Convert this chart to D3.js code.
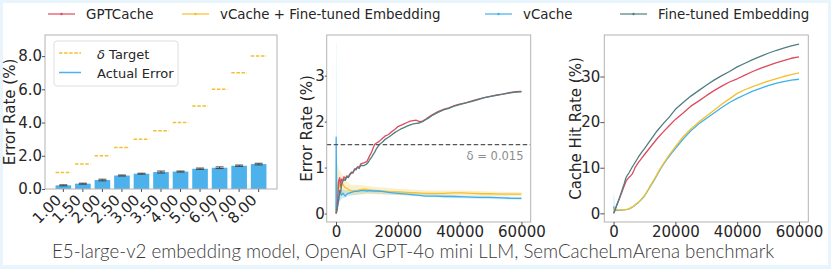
<!DOCTYPE html>
<html><head><meta charset="utf-8">
<script src="https://cdn.jsdelivr.net/npm/d3@7"></script>
<style>
body{margin:0;background:#fff}
svg text{font-family:"DejaVu Sans",sans-serif;fill:#262626}
</style>
</head><body>
<svg id="c" width="831" height="269"></svg>
<script>
// ---------------- DATA ----------------
const seriesNames = ["GPTCache", "vCache + Fine-tuned Embedding", "vCache", "Fine-tuned Embedding"];
const deltaCategories = ["1.00","1.50","2.00","2.50","3.00","3.50","4.00","5.00","6.00","7.00","8.00"];
const deltaTargets = [1.0,1.5,2.0,2.5,3.0,3.5,4.0,5.0,6.0,7.0,8.0];
const actualError = [0.22,0.32,0.54,0.81,0.92,1.02,1.05,1.22,1.28,1.40,1.50];
const actualErrorStd = [0.03,0.03,0.05,0.03,0.03,0.06,0.03,0.04,0.05,0.04,0.05];
const barLegend = ["δ Target", "Actual Error"];

const err_gptcache = [[0,0],[300,0.1],[600,0.35],[900,0.72],[1200,0.78],[1500,0.6],[1800,0.75],[2200,0.72],[2600,0.8],[3000,0.76],[3500,0.82],[4000,0.8],[4500,0.86],[5000,0.9],[5500,0.88],[6000,0.97],[6500,0.95],[7000,1.02],[7500,1.0],[8000,1.08],[9000,1.1],[10000,1.13],[10500,1.2],[11000,1.27],[11500,1.33],[12000,1.42],[12500,1.5],[13000,1.53],[14000,1.57],[15000,1.63],[16000,1.69],[17000,1.72],[18000,1.78],[19000,1.83],[20000,1.89],[21000,1.92],[22000,1.95],[23000,1.98],[24000,2.01],[25000,2.02],[26000,2.03],[27000,2.0],[28000,2.01],[29000,2.05],[30000,2.1],[31000,2.14],[33000,2.22],[35000,2.27],[36500,2.3],[38000,2.34],[40000,2.38],[42000,2.41],[44000,2.45],[46000,2.49],[48000,2.52],[50000,2.55],[52000,2.58],[54000,2.6],[56000,2.63],[58000,2.65],[60000,2.66]];
const err_ft = [[0,0],[300,0.05],[600,0.2],[900,0.3],[1200,0.5],[1500,0.45],[1800,0.62],[2200,0.7],[2600,0.74],[3000,0.72],[3500,0.8],[4000,0.78],[4500,0.84],[5000,0.88],[5500,0.9],[6000,0.95],[6500,0.98],[7000,1.0],[7500,0.98],[8000,1.05],[9000,1.04],[10000,1.08],[10500,1.12],[11000,1.18],[11500,1.22],[12000,1.28],[12500,1.33],[13000,1.4],[14000,1.5],[15000,1.55],[16000,1.62],[17000,1.66],[18000,1.71],[19000,1.76],[20000,1.8],[21000,1.84],[22000,1.87],[23000,1.9],[24000,1.93],[25000,1.95],[26000,1.96],[27000,1.97],[28000,2.0],[29000,2.04],[30000,2.08],[31000,2.13],[33000,2.2],[35000,2.26],[36500,2.29],[38000,2.33],[40000,2.37],[42000,2.41],[44000,2.44],[46000,2.48],[48000,2.52],[50000,2.55],[52000,2.57],[54000,2.6],[56000,2.62],[58000,2.64],[60000,2.65]];
const err_vcache = [[0,0.05],[60,1.66],[200,0.6],[350,0.1],[600,0.2],[900,0.35],[1300,0.45],[1800,0.4],[2300,0.44],[3000,0.38],[3500,0.42],[4000,0.44],[5000,0.46],[6000,0.48],[7000,0.48],[8000,0.5],[9000,0.5],[10000,0.49],[11000,0.5],[12000,0.49],[13000,0.49],[15000,0.48],[17000,0.46],[20000,0.44],[23000,0.42],[26000,0.4],[29000,0.38],[32000,0.38],[35000,0.37],[38000,0.37],[42000,0.36],[46000,0.35],[50000,0.35],[54000,0.34],[57000,0.33],[60000,0.33]];
const err_vcacheft = [[0,0],[200,0.3],[500,0.62],[800,0.7],[1100,0.6],[1500,0.55],[2000,0.66],[2500,0.6],[3000,0.56],[3500,0.55],[4000,0.52],[5000,0.5],[6000,0.49],[7000,0.5],[8000,0.52],[9000,0.53],[10000,0.52],[11000,0.51],[12000,0.5],[14000,0.49],[16000,0.48],[18000,0.47],[20000,0.47],[23000,0.46],[26000,0.45],[29000,0.44],[32000,0.44],[35000,0.44],[38000,0.45],[41000,0.45],[44000,0.44],[47000,0.43],[50000,0.43],[53000,0.42],[56000,0.42],[60000,0.42]];
const errBand_vcacheft = [[0,0,1.2],[500,0.2,1.1],[1000,0.3,0.95],[2000,0.4,0.85],[3000,0.42,0.72],[5000,0.4,0.62],[8000,0.42,0.62],[12000,0.42,0.58],[20000,0.4,0.54],[30000,0.38,0.5],[40000,0.39,0.5],[50000,0.38,0.48],[60000,0.38,0.46]];
const errBand_vcache = [[0,0,3.73],[100,0,3.7],[250,0,1.2],[500,0.05,0.7],[1000,0.25,0.62],[2000,0.32,0.52],[4000,0.38,0.5],[10000,0.44,0.54],[20000,0.4,0.48],[40000,0.33,0.39],[60000,0.3,0.36]];
const deltaLine = 1.5;
const deltaLabel = "δ = 0.015";

const hit_ft = [[0,0],[500,0.8],[1000,1.8],[1500,2.6],[2000,3.6],[2500,4.6],[3000,5.6],[3500,6.6],[4000,7.8],[4500,8.4],[5000,8.9],[6000,10.1],[7000,11.2],[8000,12.3],[9000,13.3],[10000,14.2],[12000,16.1],[14000,18.0],[16000,19.6],[18000,21.1],[20000,22.8],[22500,24.3],[25000,25.7],[27500,26.9],[30000,28.1],[32500,29.2],[35000,30.2],[37500,31.1],[40000,32.1],[42500,32.9],[45000,33.7],[47500,34.4],[50000,35.1],[52500,35.7],[55000,36.2],[57500,36.7],[60000,37.1]];
const hit_gptcache = [[0,0],[500,0.8],[1000,1.7],[1500,2.6],[2000,3.4],[2500,4.3],[3000,5.2],[3500,6.1],[4000,7.0],[4500,7.5],[5000,7.9],[5500,8.2],[6000,8.6],[6500,9.3],[7000,10.1],[8000,11.1],[9000,12.0],[10000,12.9],[12000,14.6],[14000,16.3],[16000,17.8],[18000,19.2],[20000,20.6],[22500,22.0],[25000,23.5],[27500,24.6],[30000,25.8],[32500,26.9],[35000,27.9],[37500,28.8],[40000,29.5],[42500,30.3],[45000,31.1],[47500,31.8],[50000,32.4],[52500,33.0],[55000,33.5],[57500,34.0],[60000,34.3]];
const hit_vcacheft = [[0,1.0],[300,0.6],[700,0.8],[1500,0.7],[2500,0.75],[3500,0.8],[4500,0.9],[5000,1.0],[5500,1.2],[6000,1.4],[6500,1.6],[7000,1.9],[8000,2.4],[9000,3.1],[10000,3.9],[11000,5.0],[12000,6.2],[13000,7.3],[14000,8.5],[15000,9.7],[16000,10.8],[17000,11.8],[18000,12.8],[19000,13.7],[20000,14.6],[22500,16.8],[25000,18.5],[27500,20.0],[30000,21.3],[32500,22.6],[35000,23.9],[37500,25.1],[40000,26.3],[42500,27.1],[45000,27.8],[47500,28.4],[50000,29.0],[52500,29.5],[55000,30.0],[57500,30.4],[60000,30.8]];
const hit_vcache = [[0,1.5],[300,0.6],[700,0.7],[1500,0.65],[2500,0.7],[3500,0.75],[4500,0.85],[5000,0.95],[5500,1.15],[6000,1.35],[6500,1.55],[7000,1.85],[8000,2.35],[9000,3.0],[10000,3.8],[11000,4.9],[12000,6.0],[13000,7.1],[14000,8.3],[15000,9.5],[16000,10.6],[17000,11.6],[18000,12.5],[19000,13.4],[20000,14.2],[22500,16.3],[25000,18.1],[27500,19.6],[30000,20.8],[32500,22.0],[35000,23.2],[37500,24.3],[40000,25.2],[42500,26.0],[45000,26.8],[47500,27.4],[50000,28.0],[52500,28.5],[55000,28.9],[57500,29.2],[60000,29.4]];
const hitBand_vcache = [[0,0,4.4],[150,0,4.2],[400,0.3,1.4],[900,0.4,1.0],[2000,0.5,0.85]];

const xTicks = [0,20000,40000,60000];
const errTicks = [0,1,2,3];
const hitTicks = [0,10,20,30];
const barTicks = [0,2,4,6,8];
const caption = "E5-large-v2 embedding model, OpenAI GPT-4o mini LLM, SemCacheLmArena benchmark";

// ---------------- STYLE ----------------
const C = {red:"#dc4b5f", yellow:"#f3c02e", blue:"#3fb0ec", teal:"#4f7f80", bar:"#4db1ec"};
const seriesColors = [C.red, C.yellow, C.blue, C.teal];
const svg = d3.select("#c");
const W = 831, H = 269;

svg.append("rect").attr("width",W).attr("height",H).attr("fill","#e9f5fc");
svg.append("rect").attr("x",3).attr("y",3).attr("width",W-6).attr("height",H-7).attr("fill","#fff");

function frame(g, x0, y0, x1, y1){
  g.append("rect").attr("x",x0).attr("y",y0).attr("width",x1-x0).attr("height",y1-y0)
   .attr("fill","none").attr("stroke","#b3b3b3").attr("stroke-width",1);
}
function styleAxis(sel){
  sel.select(".domain").remove();
  sel.selectAll(".tick line").attr("stroke","#555");
  sel.selectAll(".tick text").style("font-size","15px").attr("fill","#262626").style("font-family","DejaVu Sans");
}
function ylabel(text, x, y){
  svg.append("text").attr("transform",`translate(${x},${y}) rotate(-90)`)
    .attr("text-anchor","middle").attr("dominant-baseline","central")
    .style("font-size","15px").text(text);
}

// ---------------- PANEL 1 ----------------
{
  const L=45, R=277, T=35, B=189;
  const x = d3.scaleLinear().domain([-0.94, deltaCategories.length-1+0.94]).range([L,R]);
  const y = d3.scaleLinear().domain([0, 9.27]).range([B,T]);
  const g = svg.append("g");
  const bw = x(0.8)-x(0);
  g.selectAll("rect.bar").data(actualError).join("rect").attr("class","bar")
    .attr("x",(d,i)=>x(i)-bw/2).attr("width",bw)
    .attr("y",d=>y(d)).attr("height",d=>B-y(d)).attr("fill",C.bar);
  const eb = g.selectAll("g.eb").data(actualError).join("g");
  eb.append("line").attr("x1",(d,i)=>x(i)).attr("x2",(d,i)=>x(i))
    .attr("y1",(d,i)=>y(d-actualErrorStd[i])).attr("y2",(d,i)=>y(d+actualErrorStd[i])).attr("stroke","#444");
  [-1,1].forEach(s=>{
    eb.append("line").attr("x1",(d,i)=>x(i)-4).attr("x2",(d,i)=>x(i)+4)
      .attr("y1",(d,i)=>y(d+s*actualErrorStd[i])).attr("y2",(d,i)=>y(d+s*actualErrorStd[i]))
      .attr("stroke","#444");
  });
  g.selectAll("line.tg").data(deltaTargets).join("line").attr("class","tg")
    .attr("x1",(d,i)=>x(i)-bw/2).attr("x2",(d,i)=>x(i)+bw/2)
    .attr("y1",d=>y(d)).attr("y2",d=>y(d))
    .attr("stroke",C.yellow).attr("stroke-width",1.5).attr("stroke-dasharray","3.5,1.6");
  frame(g,L,T,R,B);
  const ya = g.append("g").attr("transform",`translate(${L},0)`)
    .call(d3.axisLeft(y).tickValues(barTicks).tickFormat(d3.format(".1f")).tickSize(3).tickPadding(0));
  styleAxis(ya);
  const xa = g.append("g");
  xa.selectAll("line").data(deltaCategories).join("line")
    .attr("x1",(d,i)=>x(i)).attr("x2",(d,i)=>x(i)).attr("y1",B).attr("y2",B+3).attr("stroke","#555");
  xa.selectAll("text").data(deltaCategories).join("text")
    .attr("transform",(d,i)=>`translate(${x(i)-1},${B+12}) rotate(-45)`)
    .attr("text-anchor","end").style("font-size","15px").text(d=>d);
  ylabel("Error Rate (%)", 10, (T+B)/2);
  const lg = g.append("g");
  lg.append("rect").attr("x",54).attr("y",41).attr("width",124).attr("height",45).attr("rx",3)
    .attr("fill","#fff").attr("fill-opacity",0.85).attr("stroke","#dedede");
  lg.append("line").attr("x1",59).attr("x2",81).attr("y1",53).attr("y2",53)
    .attr("stroke",C.yellow).attr("stroke-width",1.5).attr("stroke-dasharray","3.5,1.6");
  lg.append("line").attr("x1",59).attr("x2",81).attr("y1",72.5).attr("y2",72.5)
    .attr("stroke",C.bar).attr("stroke-width",1.5);
  const t1 = lg.append("text").attr("x",97).attr("y",58.5).style("font-size","13px");
  t1.append("tspan").style("font-style","italic").text("δ");
  t1.append("tspan").text(" Target");
  lg.append("text").attr("x",97).attr("y",78).style("font-size","13px").text(barLegend[1]);
}

function linePanel(L,R,T,B,ydom,clipId){
  const x = d3.scaleLinear().domain([-3000,63000]).range([L,R]);
  const y = d3.scaleLinear().domain(ydom).range([B,T]);
  svg.append("clipPath").attr("id",clipId).append("rect").attr("x",L).attr("y",T).attr("width",R-L).attr("height",B-T);
  const g = svg.append("g");
  const inner = g.append("g").attr("clip-path",`url(#${clipId})`);
  return {x,y,g,inner};
}
function drawLine(p, data, color){
  p.inner.append("path").datum(data)
    .attr("d", d3.line().x(d=>p.x(d[0])).y(d=>p.y(d[1])))
    .attr("fill","none").attr("stroke",color).attr("stroke-width",1.3).attr("stroke-linejoin","round");
}
function drawBand(p, data, color, op){
  p.inner.append("path").datum(data)
    .attr("d", d3.area().x(d=>p.x(d[0])).y0(d=>p.y(d[1])).y1(d=>p.y(d[2])))
    .attr("fill",color).attr("fill-opacity",op).attr("stroke","none");
}
function axes(p,L,R,T,B,yt,ysize){
  frame(p.g,L,T,R,B);
  const xa = p.g.append("g").attr("transform",`translate(0,${B})`)
    .call(d3.axisBottom(p.x).tickValues(xTicks).tickFormat(d3.format("d")).tickSize(3).tickPadding(1));
  styleAxis(xa);
  const ya = p.g.append("g").attr("transform",`translate(${L},0)`)
    .call(d3.axisLeft(p.y).tickValues(yt).tickFormat(d3.format("d")).tickSize(ysize).tickPadding(0));
  styleAxis(ya);
}

// ---------------- PANEL 2 ----------------
{
  const L=326.7, R=530.7, T=35, B=222;
  const p = linePanel(L,R,T,B,[-0.185,3.885],"cp2");
  drawBand(p, errBand_vcache, C.blue, 0.25);
  drawBand(p, errBand_vcacheft, C.yellow, 0.25);
  drawLine(p, err_vcacheft, C.yellow);
  drawLine(p, err_vcache, C.blue);
  drawLine(p, err_gptcache, C.red);
  drawLine(p, err_ft, C.teal);
  p.inner.append("line").attr("x1",L).attr("x2",R).attr("y1",p.y(deltaLine)).attr("y2",p.y(deltaLine))
    .attr("stroke","#555").attr("stroke-width",1.4).attr("stroke-dasharray","4.5,2.5");
  p.g.append("text").attr("x",523.5).attr("y",159.5).attr("text-anchor","end")
    .style("font-size","11.5px").style("fill","#8c8c8c").text(deltaLabel);
  axes(p,L,R,T,B,errTicks,2);
  ylabel("Error Rate (%)", 306.5, (T+B)/2);
}

// ---------------- PANEL 3 ----------------
{
  const L=604.3, R=808.3, T=35, B=222;
  const p = linePanel(L,R,T,B,[-1.9,39.1],"cp3");
  drawBand(p, hitBand_vcache, C.blue, 0.25);
  drawLine(p, hit_vcache, C.blue);
  drawLine(p, hit_vcacheft, C.yellow);
  drawLine(p, hit_gptcache, C.red);
  drawLine(p, hit_ft, C.teal);
  axes(p,L,R,T,B,hitTicks,4);
  ylabel("Cache Hit Rate (%)", 575.5, (T+B)/2);
}

// ---------------- TOP LEGEND ----------------
{
  const sx = [48,182,485,620];
  const g = svg.append("g");
  seriesNames.forEach((n,i)=>{
    g.append("line").attr("x1",sx[i]).attr("x2",sx[i]+27).attr("y1",14).attr("y2",14)
      .attr("stroke",seriesColors[i]).attr("stroke-width",2).attr("stroke-opacity",0.6);
    g.append("circle").attr("cx",sx[i]+13.5).attr("cy",14).attr("r",1.2).attr("fill",seriesColors[i]);
    g.append("text").attr("x",sx[i]+38).attr("y",18.8).style("font-size","13.4px").text(n);
  });
}

// ---------------- CAPTION ----------------
{
  const t = svg.append("text").attr("x",52).attr("y",257.5)
    .style("font-family","Lato, 'Open Sans', sans-serif").style("font-weight","300")
    .style("font-size","16px").style("fill","#3a3a3a").text(caption);
  const len = t.node().getComputedTextLength();
  t.style("font-size", (16*723/len).toFixed(2)+"px");
}
</script>
</body></html>
